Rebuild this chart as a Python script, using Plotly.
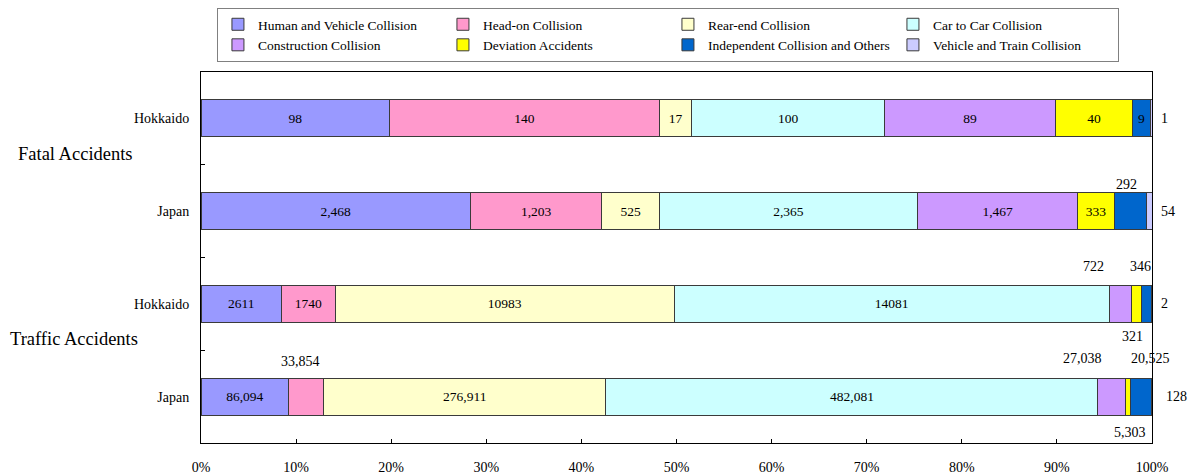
import plotly.graph_objects as go

# ---------------- data ----------------
rows = ["Hokkaido", "Japan", "Hokkaido", "Japan"]
groups = ["Fatal Accidents", "Traffic Accidents"]
series = ["Human and Vehicle Collision", "Head-on Collision", "Rear-end Collision",
          "Car to Car Collision", "Construction Collision", "Deviation Accidents",
          "Independent Collision and Others", "Vehicle and Train Collision"]
# values per series, in row order [Fatal-Hokkaido, Fatal-Japan, Traffic-Hokkaido, Traffic-Japan]
human = [98, 2468, 2611, 86094]
headon = [140, 1203, 1740, 33854]
rearend = [17, 525, 10983, 276911]
car2car = [100, 2365, 14081, 482081]
construction = [89, 1467, 722, 27038]
deviation = [40, 333, 321, 5303]
independent = [9, 292, 346, 20525]
train = [1, 54, 2, 128]
values = [human, headon, rearend, car2car, construction, deviation, independent, train]
x_ticks = [0, 0.1, 0.2, 0.3, 0.4, 0.5, 0.6, 0.7, 0.8, 0.9, 1.0]

# ---------------- style ----------------
colors = ["#9999FF", "#FF99CC", "#FFFFCC", "#CCFFFF", "#CC99FF", "#FFFF00", "#0066CC", "#CCCCFF"]
use_commas = [True, True, False, True]
FONT = "Liberation Serif"
# labels drawn outside their segment: (row, series) -> (where, xshift, yshift)
outside = {
    (0, 7): ("right", 12, 0),
    (1, 6): ("seg", -4, -27),
    (1, 7): ("right", 16, 0),
    (2, 4): ("seg", -27, -37),
    (2, 5): ("seg", -4, 33),
    (2, 6): ("seg", -6, -37),
    (2, 7): ("right", 12, 0),
    (3, 1): ("seg", -6, -35),
    (3, 4): ("seg", -29, -38),
    (3, 5): ("seg", 2, 36),
    (3, 6): ("seg", 9, -38),
    (3, 7): ("right", 24, 0),
}

totals = [sum(v[r] for v in values) for r in range(len(rows))]
ypos = list(range(len(rows)))


def fmt(val, r):
    return f"{val:,}" if use_commas[r] else str(val)


fig = go.Figure()
annotations = []
cum = [0.0] * len(rows)
for s, (name, vals, col) in enumerate(zip(series, values, colors)):
    pct = [vals[r] / totals[r] for r in range(len(rows))]
    texts = []
    for r in range(len(rows)):
        if (r, s) in outside:
            texts.append("")
            where, xs, ys = outside[(r, s)]
            xc = 1.0 if where == "right" else cum[r] + pct[r] / 2
            annotations.append(dict(
                x=xc, y=ypos[r], xref="x", yref="y", text=fmt(vals[r], r),
                showarrow=False, xshift=xs, yshift=-ys,
                font=dict(family=FONT, size=14, color="black")))
        else:
            texts.append(fmt(vals[r], r))
        cum[r] += pct[r]
    fig.add_trace(go.Bar(
        name=name, y=ypos, x=pct, orientation="h", width=0.4,
        marker=dict(color=col, line=dict(color="#3a3a3a", width=1)),
        text=texts, textposition="inside", insidetextanchor="middle",
        textangle=0, constraintext="none",
        textfont=dict(family=FONT, size=13.5, color="black"),
        hoverinfo="skip"))

# group labels
for g, yv, xc in [(groups[0], 0.38, -0.132), (groups[1], 2.38, -0.134)]:
    annotations.append(dict(x=xc, y=yv, xref="paper", yref="y", text=g,
                            showarrow=False, xanchor="center",
                            font=dict(family=FONT, size=18.5, color="black")))

fig.update_layout(
    width=1188, height=475,
    margin=dict(l=201, r=36, t=72, b=32, autoexpand=False),
    barmode="stack",
    plot_bgcolor="white", paper_bgcolor="white",
    font=dict(family=FONT, size=14, color="black"),
    legend=dict(orientation="h", x=0.491, y=1.1725, xanchor="center", yanchor="top",
                entrywidth=180, entrywidthmode="pixels",
                bgcolor="white", bordercolor="#808080", borderwidth=1,
                font=dict(family=FONT, size=13.5), traceorder="normal",
                tracegroupgap=0),
    annotations=annotations,
    xaxis=dict(range=[0, 1], tickvals=x_ticks, tickformat=".0%",
               ticks="inside", ticklen=4, tickcolor="black",
               showline=True, linecolor="black", linewidth=1, mirror=True,
               showgrid=False, zeroline=False, ticklabelstandoff=11,
               automargin=False,
               tickfont=dict(family=FONT, size=14)),
    yaxis=dict(range=[3.5, -0.5], tickvals=ypos, ticktext=rows, ticks="",
               showline=True, linecolor="black", linewidth=1, mirror=True,
               showgrid=False, zeroline=False, ticklabelstandoff=8,
               automargin=False,
               tickfont=dict(family=FONT, size=14),
               minor=dict(tickmode="array", tickvals=[0.5, 1.5, 2.5],
                          ticks="inside", ticklen=4, tickcolor="black")),
)

fig.write_html("out.html")
